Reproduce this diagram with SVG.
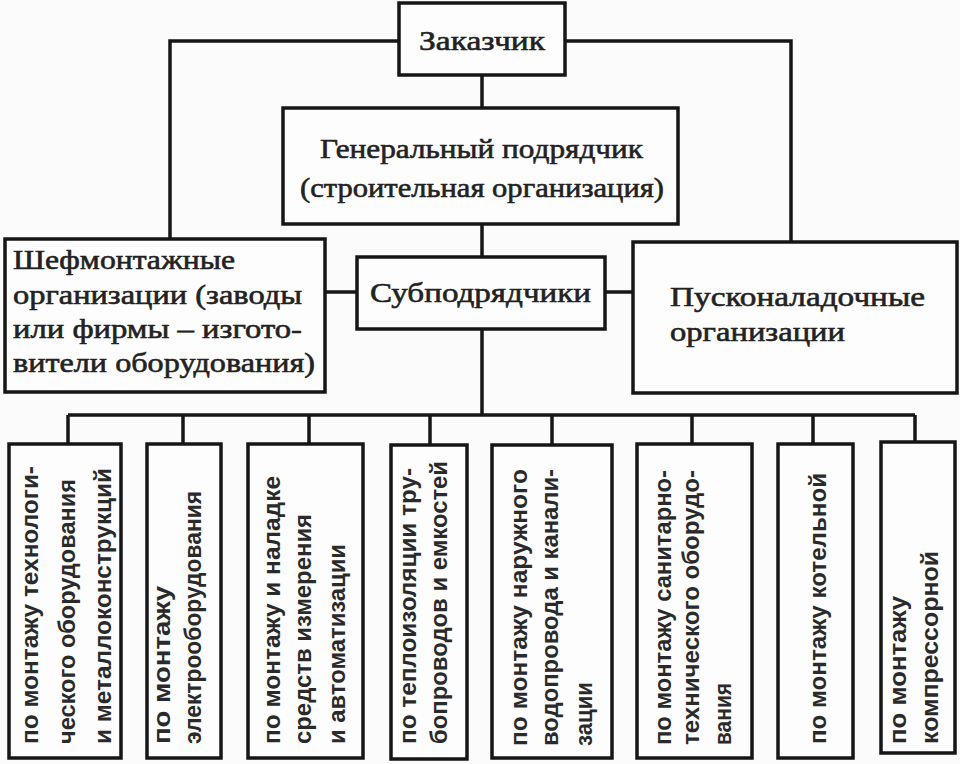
<svg xmlns="http://www.w3.org/2000/svg" width="960" height="764" viewBox="0 0 960 764">
<style>
.box{fill:#fdfdfd;stroke:#161616;stroke-width:3.5}
.ln{fill:none;stroke:#161616;stroke-width:3.5}
.t{font-family:"Liberation Serif","Times New Roman",serif;font-size:28px;fill:#222;stroke:#222;stroke-width:0.6}
.v{font-family:"Liberation Sans",Arial,sans-serif;font-size:24px;font-weight:bold;fill:#2a2a2a}
</style>
<rect width="960" height="764" fill="#fbfbfb"/>
<g id="connectors">
<polyline class="ln" points="399,41 170,41 170,239"/>
<polyline class="ln" points="565,41 791,41 791,242"/>
<line class="ln" x1="482" y1="75" x2="482" y2="108"/>
<line class="ln" x1="482" y1="224" x2="482" y2="257"/>
<line class="ln" x1="325" y1="292" x2="357" y2="292"/>
<line class="ln" x1="605" y1="292" x2="633" y2="292"/>
<line class="ln" x1="482" y1="329" x2="482" y2="415"/>
<line class="ln" x1="68" y1="415" x2="915" y2="415"/>
<line class="ln" x1="68" y1="415" x2="68" y2="444"/>
<line class="ln" x1="183" y1="415" x2="183" y2="444"/>
<line class="ln" x1="309" y1="415" x2="309" y2="444"/>
<line class="ln" x1="430" y1="415" x2="430" y2="445"/>
<line class="ln" x1="552" y1="415" x2="552" y2="445"/>
<line class="ln" x1="692" y1="415" x2="692" y2="444"/>
<line class="ln" x1="813" y1="415" x2="813" y2="444"/>
<line class="ln" x1="915" y1="415" x2="915" y2="442"/>
</g>
<g id="zakazchik">
<rect class="box" x="399" y="3" width="166" height="72"/>
<text class="t" x="419" y="50" font-size="30" textLength="126" lengthAdjust="spacingAndGlyphs">Заказчик</text>
</g>
<g id="genpodryadchik">
<rect class="box" x="283" y="108" width="395" height="116"/>
<text class="t" x="320" y="158" font-size="29" textLength="323" lengthAdjust="spacingAndGlyphs">Генеральный подрядчик</text>
<text class="t" x="300" y="197" font-size="29" textLength="364" lengthAdjust="spacingAndGlyphs">(строительная организация)</text>
</g>
<g id="shefmontazh">
<rect class="box" x="5" y="239" width="320" height="153"/>
<text class="t" x="13" y="269" textLength="222" lengthAdjust="spacingAndGlyphs">Шефмонтажные</text>
<text class="t" x="13" y="304" textLength="289" lengthAdjust="spacingAndGlyphs">организации (заводы</text>
<text class="t" x="13" y="338" textLength="289" lengthAdjust="spacingAndGlyphs">или фирмы – изгото-</text>
<text class="t" x="13" y="372" textLength="302" lengthAdjust="spacingAndGlyphs">вители оборудования)</text>
</g>
<g id="subpodryadchiki">
<rect class="box" x="357" y="257" width="248" height="72"/>
<text class="t" x="370" y="302" textLength="221" lengthAdjust="spacingAndGlyphs">Субподрядчики</text>
</g>
<g id="puskonaladka">
<rect class="box" x="633" y="242" width="324" height="151"/>
<text class="t" x="670" y="306" textLength="255" lengthAdjust="spacingAndGlyphs">Пусконаладочные</text>
<text class="t" x="670" y="341" textLength="175" lengthAdjust="spacingAndGlyphs">организации</text>
</g>
<g id="b1">
<rect class="box" x="9" y="444" width="112" height="314"/>
<text class="v" transform="translate(38,744) rotate(-90)" textLength="278" lengthAdjust="spacingAndGlyphs">по монтажу технологи-</text>
<text class="v" transform="translate(75,744) rotate(-90)" textLength="265" lengthAdjust="spacingAndGlyphs">ческого оборудования</text>
<text class="v" transform="translate(111,744) rotate(-90)" textLength="276" lengthAdjust="spacingAndGlyphs">и металлоконструкций</text>
</g>
<g id="b2">
<rect class="box" x="147" y="444" width="74" height="314"/>
<text class="v" transform="translate(170,744) rotate(-90)" textLength="158" lengthAdjust="spacingAndGlyphs">по монтажу</text>
<text class="v" transform="translate(201,744) rotate(-90)" textLength="253" lengthAdjust="spacingAndGlyphs">электрооборудования</text>
</g>
<g id="b3">
<rect class="box" x="248" y="444" width="115" height="314"/>
<text class="v" transform="translate(280,744) rotate(-90)" textLength="268" lengthAdjust="spacingAndGlyphs">по монтажу и наладке</text>
<text class="v" transform="translate(311,744) rotate(-90)" textLength="230" lengthAdjust="spacingAndGlyphs">средств измерения</text>
<text class="v" transform="translate(345,744) rotate(-90)" textLength="200" lengthAdjust="spacingAndGlyphs">и автоматизации</text>
</g>
<g id="b4">
<rect class="box" x="391" y="445" width="76" height="314"/>
<text class="v" transform="translate(416,744) rotate(-90)" textLength="276" lengthAdjust="spacingAndGlyphs">по теплоизоляции тру-</text>
<text class="v" transform="translate(447,744) rotate(-90)" textLength="283" lengthAdjust="spacingAndGlyphs">бопроводов и емкостей</text>
</g>
<g id="b5">
<rect class="box" x="492" y="445" width="120" height="313"/>
<text class="v" transform="translate(527,746) rotate(-90)" textLength="277" lengthAdjust="spacingAndGlyphs">по монтажу наружного</text>
<text class="v" transform="translate(558,746) rotate(-90)" textLength="277" lengthAdjust="spacingAndGlyphs">водопровода и канали-</text>
<text class="v" transform="translate(592,746) rotate(-90)" textLength="64" lengthAdjust="spacingAndGlyphs">зации</text>
</g>
<g id="b6">
<rect class="box" x="637" y="444" width="115" height="314"/>
<text class="v" transform="translate(671,745) rotate(-90)" textLength="275" lengthAdjust="spacingAndGlyphs">по монтажу санитарно-</text>
<text class="v" transform="translate(699,745) rotate(-90)" textLength="275" lengthAdjust="spacingAndGlyphs">технического оборудо-</text>
<text class="v" transform="translate(731,745) rotate(-90)" textLength="62" lengthAdjust="spacingAndGlyphs">вания</text>
</g>
<g id="b7">
<rect class="box" x="778" y="444" width="75" height="314"/>
<text class="v" transform="translate(826,744) rotate(-90)" textLength="271" lengthAdjust="spacingAndGlyphs">по монтажу котельной</text>
</g>
<g id="b8">
<rect class="box" x="881" y="442" width="74" height="311"/>
<text class="v" transform="translate(906,744) rotate(-90)" textLength="148" lengthAdjust="spacingAndGlyphs">по монтажу</text>
<text class="v" transform="translate(938,744) rotate(-90)" textLength="193" lengthAdjust="spacingAndGlyphs">компрессорной</text>
</g>
</svg>
